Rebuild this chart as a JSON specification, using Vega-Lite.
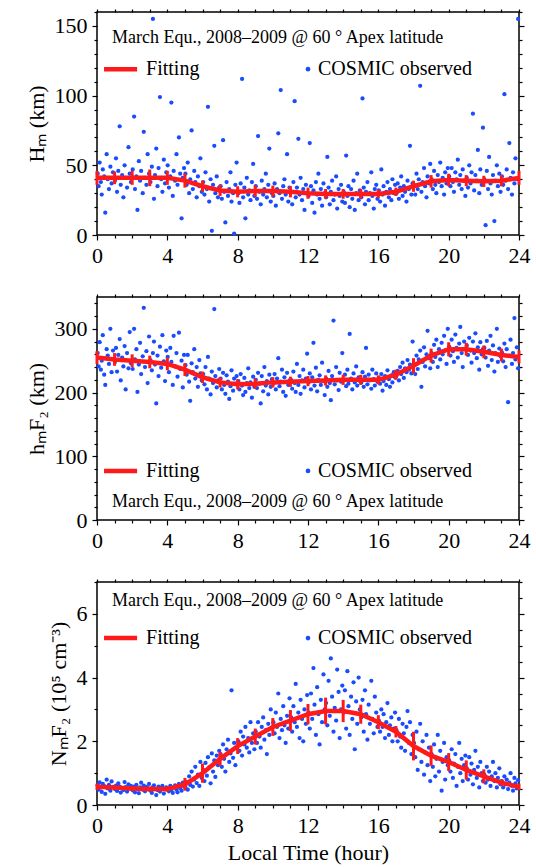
{
"$schema": "https://vega.github.io/schema/vega-lite/v6.json",
"padding": {"left": 24, "top": 0, "right": 5, "bottom": 5},
"background": "white",
"spacing": 62,
"bounds": "flush",
"datasets": {
"fit": [
{"t":0,"H":41,"He":5,"h":255,"he":10,"N":0.57,"Ne":0.1},
{"t":1,"H":41,"He":4.5,"h":252,"he":10,"N":0.55,"Ne":0.08},
{"t":2,"H":41,"He":5,"h":250,"he":10,"N":0.52,"Ne":0.08},
{"t":3,"H":41,"He":6,"h":248,"he":10,"N":0.5,"Ne":0.08},
{"t":4,"H":41,"He":5,"h":245,"he":10,"N":0.5,"Ne":0.08},
{"t":5,"H":39,"He":5,"h":236,"he":10,"N":0.65,"Ne":0.2},
{"t":6,"H":35,"He":4,"h":224,"he":9,"N":1.0,"Ne":0.3},
{"t":7,"H":32,"He":4,"h":216,"he":8,"N":1.45,"Ne":0.22},
{"t":8,"H":31,"He":4,"h":213,"he":8,"N":1.85,"Ne":0.25},
{"t":9,"H":31.5,"He":4,"h":214,"he":8,"N":2.15,"Ne":0.25},
{"t":10,"H":31.5,"He":4,"h":216,"he":8,"N":2.45,"Ne":0.28},
{"t":11,"H":31,"He":4,"h":217,"he":8,"N":2.65,"Ne":0.33},
{"t":12,"H":30,"He":4,"h":218,"he":8,"N":2.85,"Ne":0.32},
{"t":13,"H":29.5,"He":3.5,"h":219,"he":8,"N":2.95,"Ne":0.42},
{"t":14,"H":29.5,"He":3.5,"h":220,"he":8,"N":2.95,"Ne":0.35},
{"t":15,"H":29.5,"He":3.5,"h":220,"he":8,"N":2.85,"Ne":0.3},
{"t":16,"H":29.5,"He":3,"h":220,"he":7,"N":2.6,"Ne":0.22},
{"t":17,"H":31,"He":3,"h":228,"he":8,"N":2.3,"Ne":0.18},
{"t":18,"H":35,"He":4,"h":242,"he":12,"N":1.85,"Ne":0.45},
{"t":19,"H":38.5,"He":4.5,"h":258,"he":11,"N":1.55,"Ne":0.32},
{"t":20,"H":39.5,"He":4.5,"h":268,"he":11,"N":1.35,"Ne":0.28},
{"t":21,"H":39,"He":4,"h":268,"he":10,"N":1.1,"Ne":0.3},
{"t":22,"H":38.5,"He":4,"h":264,"he":10,"N":0.9,"Ne":0.22},
{"t":23,"H":39,"He":4,"h":259,"he":10,"N":0.7,"Ne":0.1},
{"t":24,"H":41,"He":5,"h":256,"he":10,"N":0.57,"Ne":0.1}
],
"obs": [
{"t":0.04,"H":44,"h":262,"N":0.62},{"t":0.09,"H":35,"h":241,"N":0.48},{"t":0.15,"H":52,"h":279,"N":0.71},{"t":0.22,"H":38,"h":236,"N":0.55},{"t":0.27,"H":29,"h":250,"N":0.41},{"t":0.33,"H":47,"h":290,"N":0.66},{"t":0.41,"H":42,"h":228,"N":0.59},{"t":0.47,"H":16,"h":212,"N":0.35},{"t":0.55,"H":58,"h":268,"N":0.8},{"t":0.61,"H":40,"h":258,"N":0.52},{"t":0.68,"H":33,"h":245,"N":0.63},{"t":0.76,"H":49,"h":300,"N":0.45},{"t":0.83,"H":37,"h":232,"N":0.74},{"t":0.91,"H":45,"h":266,"N":0.57},
{"t":1.02,"H":39,"h":248,"N":0.5},{"t":1.08,"H":55,"h":270,"N":0.61},{"t":1.14,"H":31,"h":233,"N":0.44},{"t":1.21,"H":46,"h":259,"N":0.68},{"t":1.29,"H":78,"h":284,"N":0.58},{"t":1.35,"H":36,"h":219,"N":0.39},{"t":1.43,"H":43,"h":255,"N":0.53},{"t":1.5,"H":27,"h":241,"N":0.47},{"t":1.57,"H":50,"h":273,"N":0.72},{"t":1.63,"H":41,"h":205,"N":0.56},{"t":1.71,"H":34,"h":262,"N":0.42},{"t":1.79,"H":63,"h":238,"N":0.65},{"t":1.86,"H":44,"h":295,"N":0.51},{"t":1.93,"H":38,"h":246,"N":0.6},
{"t":2.03,"H":47,"h":237,"N":0.46},{"t":2.11,"H":85,"h":300,"N":0.58},{"t":2.16,"H":33,"h":252,"N":0.4},{"t":2.24,"H":42,"h":268,"N":0.63},{"t":2.3,"H":18,"h":201,"N":0.5},{"t":2.38,"H":53,"h":244,"N":0.37},{"t":2.45,"H":39,"h":278,"N":0.55},{"t":2.51,"H":46,"h":229,"N":0.7},{"t":2.6,"H":30,"h":257,"N":0.48},{"t":2.66,"H":74,"h":333,"N":0.61},{"t":2.73,"H":41,"h":240,"N":0.43},{"t":2.81,"H":36,"h":265,"N":0.57},{"t":2.88,"H":58,"h":215,"N":0.52},{"t":2.96,"H":44,"h":288,"N":0.66},
{"t":3.04,"H":38,"h":251,"N":0.45},{"t":3.18,"H":155,"h":262,"N":0.56},{"t":3.12,"H":49,"h":235,"N":0.38},{"t":3.24,"H":26,"h":280,"N":0.62},{"t":3.3,"H":43,"h":244,"N":0.5},{"t":3.37,"H":62,"h":183,"N":0.31},{"t":3.44,"H":35,"h":258,"N":0.47},{"t":3.5,"H":48,"h":226,"N":0.58},{"t":3.58,"H":99,"h":272,"N":0.42},{"t":3.65,"H":40,"h":239,"N":0.53},{"t":3.72,"H":31,"h":290,"N":0.6},{"t":3.8,"H":54,"h":249,"N":0.36},{"t":3.87,"H":37,"h":218,"N":0.49},{"t":3.94,"H":45,"h":266,"N":0.55},
{"t":4.02,"H":50,"h":256,"N":0.52},{"t":4.09,"H":34,"h":232,"N":0.43},{"t":4.17,"H":42,"h":270,"N":0.6},{"t":4.23,"H":95,"h":248,"N":0.47},{"t":4.31,"H":28,"h":212,"N":0.38},{"t":4.36,"H":46,"h":289,"N":0.55},{"t":4.44,"H":39,"h":241,"N":0.62},{"t":4.52,"H":58,"h":262,"N":0.48},{"t":4.58,"H":36,"h":225,"N":0.4},{"t":4.66,"H":70,"h":294,"N":0.66},{"t":4.73,"H":44,"h":237,"N":0.53},{"t":4.81,"H":12,"h":250,"N":0.45},{"t":4.88,"H":41,"h":208,"N":0.7},{"t":4.95,"H":48,"h":259,"N":0.58},
{"t":5.03,"H":44,"h":243,"N":0.55},{"t":5.1,"H":36,"h":228,"N":0.72},{"t":5.16,"H":52,"h":259,"N":0.48},{"t":5.24,"H":30,"h":217,"N":0.9},{"t":5.3,"H":40,"h":187,"N":0.63},{"t":5.38,"H":75,"h":246,"N":1.05},{"t":5.45,"H":33,"h":232,"N":0.58},{"t":5.53,"H":46,"h":268,"N":0.8},{"t":5.59,"H":38,"h":222,"N":1.2},{"t":5.67,"H":27,"h":240,"N":0.69},{"t":5.74,"H":42,"h":209,"N":0.95},{"t":5.82,"H":35,"h":251,"N":0.6},{"t":5.88,"H":55,"h":230,"N":1.35},{"t":5.96,"H":31,"h":219,"N":0.85},
{"t":6.04,"H":38,"h":229,"N":1.1},{"t":6.11,"H":29,"h":213,"N":0.75},{"t":6.17,"H":45,"h":240,"N":1.32},{"t":6.25,"H":33,"h":205,"N":0.92},{"t":6.31,"H":92,"h":256,"N":1.5},{"t":6.38,"H":24,"h":222,"N":1.18},{"t":6.46,"H":40,"h":197,"N":0.68},{"t":6.53,"H":3,"h":233,"N":1.62},{"t":6.6,"H":36,"h":215,"N":1.05},{"t":6.67,"H":64,"h":331,"N":1.4},{"t":6.73,"H":30,"h":226,"N":0.88},{"t":6.81,"H":42,"h":208,"N":1.55},{"t":6.88,"H":27,"h":219,"N":1.25},{"t":6.95,"H":34,"h":237,"N":1.7},
{"t":7.03,"H":35,"h":222,"N":1.6},{"t":7.1,"H":26,"h":205,"N":1.2},{"t":7.17,"H":68,"h":231,"N":1.9},{"t":7.23,"H":31,"h":212,"N":1.45},{"t":7.3,"H":9,"h":198,"N":1.05},{"t":7.37,"H":38,"h":227,"N":1.75},{"t":7.45,"H":28,"h":217,"N":2.05},{"t":7.52,"H":33,"h":190,"N":1.35},{"t":7.59,"H":45,"h":210,"N":1.62},{"t":7.65,"H":24,"h":235,"N":3.6},{"t":7.74,"H":30,"h":203,"N":1.48},{"t":7.8,"H":1,"h":222,"N":1.95},{"t":7.87,"H":36,"h":214,"N":1.25},{"t":7.94,"H":52,"h":226,"N":1.8},
{"t":8.04,"H":30,"h":218,"N":2.0},{"t":8.1,"H":23,"h":205,"N":1.7},{"t":8.17,"H":37,"h":229,"N":2.3},{"t":8.25,"H":112,"h":211,"N":1.55},{"t":8.31,"H":27,"h":196,"N":2.15},{"t":8.38,"H":34,"h":223,"N":1.9},{"t":8.44,"H":12,"h":201,"N":2.45},{"t":8.52,"H":41,"h":215,"N":1.8},{"t":8.6,"H":29,"h":238,"N":2.1},{"t":8.66,"H":32,"h":207,"N":1.65},{"t":8.73,"H":25,"h":216,"N":2.6},{"t":8.81,"H":38,"h":192,"N":1.95},{"t":8.88,"H":51,"h":225,"N":2.25},{"t":8.95,"H":28,"h":209,"N":1.75},
{"t":9.03,"H":35,"h":220,"N":2.3},{"t":9.1,"H":26,"h":207,"N":1.95},{"t":9.16,"H":71,"h":231,"N":2.6},{"t":9.24,"H":31,"h":214,"N":2.15},{"t":9.31,"H":22,"h":183,"N":1.8},{"t":9.37,"H":39,"h":226,"N":2.45},{"t":9.45,"H":29,"h":202,"N":2.75},{"t":9.52,"H":33,"h":240,"N":2.05},{"t":9.6,"H":44,"h":211,"N":2.35},{"t":9.66,"H":27,"h":218,"N":1.6},{"t":9.74,"H":36,"h":197,"N":2.55},{"t":9.8,"H":62,"h":228,"N":2.2},{"t":9.88,"H":24,"h":209,"N":3.0},{"t":9.95,"H":30,"h":221,"N":2.4},
{"t":10.03,"H":28,"h":214,"N":2.6},{"t":10.1,"H":37,"h":229,"N":2.25},{"t":10.17,"H":21,"h":205,"N":2.9},{"t":10.24,"H":33,"h":222,"N":2.45},{"t":10.31,"H":73,"h":254,"N":3.5},{"t":10.38,"H":30,"h":210,"N":2.1},{"t":10.45,"H":104,"h":217,"N":2.7},{"t":10.52,"H":26,"h":236,"N":2.35},{"t":10.59,"H":35,"h":201,"N":3.1},{"t":10.66,"H":40,"h":224,"N":2.5},{"t":10.73,"H":29,"h":195,"N":1.95},{"t":10.81,"H":58,"h":231,"N":2.8},{"t":10.88,"H":24,"h":212,"N":2.4},{"t":10.95,"H":34,"h":219,"N":3.35},
{"t":11.04,"H":31,"h":220,"N":2.75},{"t":11.1,"H":22,"h":206,"N":2.3},{"t":11.17,"H":38,"h":233,"N":3.1},{"t":11.24,"H":96,"h":215,"N":2.6},{"t":11.3,"H":27,"h":201,"N":3.8},{"t":11.37,"H":34,"h":245,"N":2.45},{"t":11.45,"H":69,"h":212,"N":2.9},{"t":11.52,"H":29,"h":226,"N":2.1},{"t":11.58,"H":41,"h":198,"N":3.3},{"t":11.66,"H":25,"h":219,"N":2.7},{"t":11.73,"H":33,"h":236,"N":2.0},{"t":11.8,"H":18,"h":208,"N":3.0},{"t":11.88,"H":36,"h":222,"N":2.55},{"t":11.95,"H":30,"h":261,"N":3.45},
{"t":12.03,"H":28,"h":216,"N":2.9},{"t":12.1,"H":66,"h":230,"N":2.4},{"t":12.17,"H":35,"h":205,"N":3.5},{"t":12.24,"H":23,"h":224,"N":2.7},{"t":12.31,"H":32,"h":278,"N":4.3},{"t":12.37,"H":16,"h":211,"N":3.15},{"t":12.45,"H":38,"h":239,"N":2.2},{"t":12.52,"H":29,"h":202,"N":3.7},{"t":12.59,"H":44,"h":220,"N":2.85},{"t":12.66,"H":26,"h":227,"N":1.9},{"t":12.73,"H":33,"h":212,"N":3.3},{"t":12.8,"H":21,"h":247,"N":2.6},{"t":12.88,"H":37,"h":218,"N":4.1},{"t":12.95,"H":30,"h":196,"N":3.0},
{"t":13.03,"H":27,"h":222,"N":3.2},{"t":13.1,"H":56,"h":209,"N":2.5},{"t":13.17,"H":34,"h":234,"N":3.9},{"t":13.24,"H":22,"h":215,"N":2.8},{"t":13.3,"H":31,"h":188,"N":4.6},{"t":13.37,"H":39,"h":226,"N":3.4},{"t":13.45,"H":25,"h":313,"N":2.3},{"t":13.52,"H":29,"h":213,"N":3.05},{"t":13.6,"H":42,"h":240,"N":2.65},{"t":13.66,"H":19,"h":219,"N":4.25},{"t":13.74,"H":33,"h":204,"N":3.55},{"t":13.8,"H":28,"h":231,"N":2.1},{"t":13.88,"H":36,"h":217,"N":3.0},{"t":13.95,"H":24,"h":262,"N":3.75},
{"t":14.03,"H":31,"h":219,"N":2.9},{"t":14.1,"H":23,"h":228,"N":3.6},{"t":14.17,"H":57,"h":210,"N":2.4},{"t":14.24,"H":28,"h":236,"N":4.2},{"t":14.3,"H":35,"h":214,"N":3.1},{"t":14.37,"H":20,"h":292,"N":2.2},{"t":14.45,"H":33,"h":222,"N":3.4},{"t":14.52,"H":26,"h":205,"N":2.7},{"t":14.59,"H":39,"h":230,"N":3.85},{"t":14.66,"H":18,"h":216,"N":1.75},{"t":14.74,"H":30,"h":241,"N":3.25},{"t":14.8,"H":44,"h":211,"N":2.55},{"t":14.88,"H":25,"h":224,"N":4.0},{"t":14.95,"H":32,"h":218,"N":3.0},
{"t":15.03,"H":27,"h":216,"N":2.75},{"t":15.1,"H":98,"h":232,"N":3.3},{"t":15.17,"H":34,"h":209,"N":2.3},{"t":15.24,"H":22,"h":225,"N":3.6},{"t":15.3,"H":31,"h":270,"N":2.85},{"t":15.38,"H":38,"h":213,"N":2.05},{"t":15.45,"H":25,"h":228,"N":3.15},{"t":15.52,"H":30,"h":219,"N":2.55},{"t":15.6,"H":45,"h":206,"N":3.9},{"t":15.66,"H":28,"h":236,"N":2.7},{"t":15.74,"H":19,"h":221,"N":2.25},{"t":15.8,"H":33,"h":211,"N":3.4},{"t":15.88,"H":36,"h":230,"N":2.9},{"t":15.95,"H":26,"h":217,"N":2.45},
{"t":16.03,"H":32,"h":223,"N":2.65},{"t":16.1,"H":24,"h":214,"N":2.3},{"t":16.17,"H":47,"h":229,"N":3.0},{"t":16.24,"H":29,"h":203,"N":2.45},{"t":16.3,"H":35,"h":218,"N":2.85},{"t":16.38,"H":21,"h":226,"N":2.1},{"t":16.45,"H":31,"h":212,"N":2.6},{"t":16.52,"H":38,"h":235,"N":3.2},{"t":16.6,"H":27,"h":221,"N":2.2},{"t":16.66,"H":33,"h":209,"N":2.5},{"t":16.74,"H":25,"h":227,"N":2.75},{"t":16.8,"H":40,"h":216,"N":2.0},{"t":16.88,"H":30,"h":232,"N":2.4},{"t":16.95,"H":36,"h":224,"N":2.9},
{"t":17.03,"H":30,"h":226,"N":2.35},{"t":17.1,"H":37,"h":234,"N":2.0},{"t":17.17,"H":26,"h":219,"N":2.7},{"t":17.24,"H":34,"h":240,"N":2.15},{"t":17.3,"H":42,"h":229,"N":1.8},{"t":17.38,"H":28,"h":247,"N":2.55},{"t":17.45,"H":35,"h":223,"N":2.25},{"t":17.52,"H":31,"h":238,"N":1.7},{"t":17.6,"H":24,"h":232,"N":2.45},{"t":17.66,"H":39,"h":251,"N":2.95},{"t":17.74,"H":33,"h":236,"N":1.95},{"t":17.8,"H":64,"h":244,"N":2.6},{"t":17.88,"H":29,"h":230,"N":1.6},{"t":17.95,"H":37,"h":280,"N":2.2},
{"t":18.03,"H":36,"h":244,"N":1.95},{"t":18.1,"H":29,"h":229,"N":1.5},{"t":18.17,"H":44,"h":258,"N":2.3},{"t":18.24,"H":33,"h":237,"N":1.1},{"t":18.3,"H":40,"h":252,"N":1.75},{"t":18.38,"H":107,"h":266,"N":2.55},{"t":18.45,"H":31,"h":209,"N":1.35},{"t":18.52,"H":38,"h":248,"N":2.0},{"t":18.6,"H":48,"h":271,"N":0.95},{"t":18.66,"H":35,"h":241,"N":1.65},{"t":18.74,"H":27,"h":260,"N":2.2},{"t":18.8,"H":42,"h":297,"N":1.25},{"t":18.88,"H":37,"h":254,"N":1.8},{"t":18.95,"H":51,"h":238,"N":0.75},
{"t":19.03,"H":40,"h":262,"N":1.6},{"t":19.1,"H":33,"h":248,"N":1.2},{"t":19.17,"H":46,"h":275,"N":1.9},{"t":19.24,"H":36,"h":256,"N":0.9},{"t":19.3,"H":30,"h":283,"N":1.45},{"t":19.38,"H":43,"h":240,"N":2.2},{"t":19.45,"H":38,"h":268,"N":1.05},{"t":19.52,"H":52,"h":252,"N":1.7},{"t":19.6,"H":35,"h":278,"N":0.45},{"t":19.66,"H":41,"h":260,"N":1.35},{"t":19.74,"H":29,"h":289,"N":1.95},{"t":19.8,"H":45,"h":266,"N":0.8},{"t":19.88,"H":37,"h":245,"N":1.5},{"t":19.95,"H":48,"h":300,"N":1.25},
{"t":20.03,"H":42,"h":272,"N":1.4},{"t":20.1,"H":35,"h":258,"N":1.05},{"t":20.17,"H":48,"h":283,"N":1.75},{"t":20.24,"H":38,"h":265,"N":0.85},{"t":20.3,"H":31,"h":248,"N":1.3},{"t":20.38,"H":45,"h":291,"N":1.6},{"t":20.45,"H":40,"h":270,"N":0.6},{"t":20.52,"H":54,"h":255,"N":1.2},{"t":20.6,"H":36,"h":277,"N":1.95},{"t":20.66,"H":43,"h":303,"N":1.0},{"t":20.74,"H":33,"h":262,"N":1.45},{"t":20.8,"H":47,"h":240,"N":0.75},{"t":20.88,"H":39,"h":280,"N":1.25},{"t":20.95,"H":28,"h":269,"N":1.55},
{"t":21.03,"H":41,"h":274,"N":1.15},{"t":21.1,"H":34,"h":259,"N":0.8},{"t":21.17,"H":50,"h":286,"N":1.5},{"t":21.24,"H":37,"h":266,"N":0.95},{"t":21.3,"H":45,"h":247,"N":1.3},{"t":21.38,"H":87,"h":280,"N":0.65},{"t":21.45,"H":32,"h":262,"N":1.1},{"t":21.52,"H":43,"h":293,"N":1.7},{"t":21.6,"H":39,"h":254,"N":0.85},{"t":21.66,"H":61,"h":271,"N":1.2},{"t":21.74,"H":30,"h":236,"N":0.55},{"t":21.8,"H":47,"h":279,"N":1.35},{"t":21.88,"H":36,"h":260,"N":1.0},{"t":21.95,"H":77,"h":268,"N":0.75},
{"t":22.03,"H":40,"h":270,"N":0.95},{"t":22.1,"H":7,"h":255,"N":0.7},{"t":22.17,"H":46,"h":281,"N":1.2},{"t":22.24,"H":33,"h":242,"N":0.8},{"t":22.3,"H":56,"h":266,"N":1.05},{"t":22.38,"H":37,"h":289,"N":0.6},{"t":22.45,"H":29,"h":251,"N":0.9},{"t":22.52,"H":43,"h":274,"N":1.35},{"t":22.6,"H":10,"h":233,"N":0.75},{"t":22.66,"H":39,"h":262,"N":1.0},{"t":22.74,"H":50,"h":300,"N":0.55},{"t":22.8,"H":35,"h":248,"N":0.85},{"t":22.88,"H":44,"h":269,"N":1.15},{"t":22.95,"H":31,"h":257,"N":0.65},
{"t":23.03,"H":42,"h":263,"N":0.75},{"t":23.1,"H":36,"h":249,"N":0.55},{"t":23.17,"H":101,"h":277,"N":0.9},{"t":23.24,"H":39,"h":240,"N":0.65},{"t":23.3,"H":47,"h":268,"N":0.8},{"t":23.38,"H":33,"h":185,"N":0.5},{"t":23.45,"H":66,"h":258,"N":0.7},{"t":23.52,"H":41,"h":283,"N":1.0},{"t":23.6,"H":29,"h":245,"N":0.6},{"t":23.66,"H":45,"h":262,"N":0.45},{"t":23.74,"H":37,"h":317,"N":0.85},{"t":23.8,"H":55,"h":252,"N":0.68},{"t":23.88,"H":40,"h":271,"N":0.52},{"t":23.95,"H":155,"h":238,"N":0.78}
]
},
"vconcat": [
{
"width": 422, "height": 223,
"resolve": {"axis": {"x": "independent", "y": "independent"}},
"layer": [
{"data": {"name": "obs"}, "mark": {"type": "circle", "size": 18, "color": "#1a4cff", "opacity": 1},
 "encoding": {
  "x": {"field": "t", "type": "quantitative", "scale": {"domain": [0, 24]}, "axis": {"orient": "bottom", "title": null, "values": [0,1,2,3,4,5,6,7,8,9,10,11,12,13,14,15,16,17,18,19,20,21,22,23,24], "labelExpr": "datum.value % 4 === 0 ? datum.label : ''", "tickSize": {"condition": {"test": "datum.value % 4 === 0", "value": 5}, "value": 3}}},
  "y": {"field": "H", "type": "quantitative", "scale": {"domain": [0, 160]}, "axis": {"orient": "left", "title": "Hₘ (km)", "values": [0,10,20,30,40,50,60,70,80,90,100,110,120,130,140,150,160], "labelExpr": "datum.value % 50 === 0 ? datum.label : ''", "tickSize": {"condition": {"test": "datum.value % 50 === 0", "value": 5}, "value": 3}}}
 }},
{"data": {"name": "fit"}, "mark": {"type": "line", "color": "#ff1a1a", "strokeWidth": 4.5},
 "encoding": {
  "x": {"field": "t", "type": "quantitative", "scale": {"domain": [0, 24]}, "axis": {"orient": "top", "title": null, "labels": false, "values": [0,1,2,3,4,5,6,7,8,9,10,11,12,13,14,15,16,17,18,19,20,21,22,23,24], "tickSize": 3}},
  "y": {"field": "H", "type": "quantitative", "scale": {"domain": [0, 160]}, "axis": {"orient": "right", "title": null, "labels": false, "values": [0,10,20,30,40,50,60,70,80,90,100,110,120,130,140,150,160], "tickSize": {"condition": {"test": "datum.value % 50 === 0", "value": 5}, "value": 3}}}
 }},
{"data": {"name": "fit"}, "mark": {"type": "errorbar", "color": "#ff1a1a", "thickness": 3},
 "encoding": {
  "x": {"field": "t", "type": "quantitative", "scale": {"domain": [0, 24]}, "axis": null},
  "y": {"field": "H", "type": "quantitative", "scale": {"domain": [0, 160]}, "axis": null},
  "yError": {"field": "He"}
 }},
{"data": {"values": [{"x": 0.85, "y": 141, "s": "March Equ., 2008–2009 @ 60 ° Apex latitude"}]}, "mark": {"type": "text", "align": "left", "baseline": "middle", "fontSize": 18, "color": "black"},
 "encoding": {"x": {"field": "x", "type": "quantitative", "scale": {"domain": [0, 24]}, "axis": null}, "y": {"field": "y", "type": "quantitative", "scale": {"domain": [0, 160]}, "axis": null}, "text": {"field": "s"}}},
{"data": {"values": [{"x": 0.4, "x2": 2.28, "y": 119}]}, "mark": {"type": "rule", "color": "#ff1a1a", "strokeWidth": 4.5},
 "encoding": {"x": {"field": "x", "type": "quantitative", "scale": {"domain": [0, 24]}, "axis": null}, "x2": {"field": "x2"}, "y": {"field": "y", "type": "quantitative", "scale": {"domain": [0, 160]}, "axis": null}}},
{"data": {"values": [{"x": 12.0, "y": 119}]}, "mark": {"type": "circle", "size": 22, "color": "#1a4cff", "opacity": 1},
 "encoding": {"x": {"field": "x", "type": "quantitative", "scale": {"domain": [0, 24]}, "axis": null}, "y": {"field": "y", "type": "quantitative", "scale": {"domain": [0, 160]}, "axis": null}}},
{"data": {"values": [{"x": 2.79, "y": 119, "s": "Fitting"}, {"x": 12.57, "y": 119, "s": "COSMIC observed"}]}, "mark": {"type": "text", "align": "left", "baseline": "middle", "fontSize": 20, "color": "black"},
 "encoding": {"x": {"field": "x", "type": "quantitative", "scale": {"domain": [0, 24]}, "axis": null}, "y": {"field": "y", "type": "quantitative", "scale": {"domain": [0, 160]}, "axis": null}, "text": {"field": "s"}}}
]
},
{
"width": 422, "height": 223,
"resolve": {"axis": {"x": "independent", "y": "independent"}},
"layer": [
{"data": {"name": "obs"}, "mark": {"type": "circle", "size": 18, "color": "#1a4cff", "opacity": 1},
 "encoding": {
  "x": {"field": "t", "type": "quantitative", "scale": {"domain": [0, 24]}, "axis": {"orient": "bottom", "title": null, "values": [0,1,2,3,4,5,6,7,8,9,10,11,12,13,14,15,16,17,18,19,20,21,22,23,24], "labelExpr": "datum.value % 4 === 0 ? datum.label : ''", "tickSize": {"condition": {"test": "datum.value % 4 === 0", "value": 5}, "value": 3}}},
  "y": {"field": "h", "type": "quantitative", "scale": {"domain": [0, 350]}, "axis": {"orient": "left", "title": "hₘF₂ (km)", "values": [0,20,40,60,80,100,120,140,160,180,200,220,240,260,280,300,320,340], "labelExpr": "datum.value % 100 === 0 ? datum.label : ''", "tickSize": {"condition": {"test": "datum.value % 100 === 0", "value": 5}, "value": 3}}}
 }},
{"data": {"name": "fit"}, "mark": {"type": "line", "color": "#ff1a1a", "strokeWidth": 4.5},
 "encoding": {
  "x": {"field": "t", "type": "quantitative", "scale": {"domain": [0, 24]}, "axis": {"orient": "top", "title": null, "labels": false, "values": [0,1,2,3,4,5,6,7,8,9,10,11,12,13,14,15,16,17,18,19,20,21,22,23,24], "tickSize": 3}},
  "y": {"field": "h", "type": "quantitative", "scale": {"domain": [0, 350]}, "axis": {"orient": "right", "title": null, "labels": false, "values": [0,20,40,60,80,100,120,140,160,180,200,220,240,260,280,300,320,340], "tickSize": {"condition": {"test": "datum.value % 100 === 0", "value": 5}, "value": 3}}}
 }},
{"data": {"name": "fit"}, "mark": {"type": "errorbar", "color": "#ff1a1a", "thickness": 3},
 "encoding": {
  "x": {"field": "t", "type": "quantitative", "scale": {"domain": [0, 24]}, "axis": null},
  "y": {"field": "h", "type": "quantitative", "scale": {"domain": [0, 350]}, "axis": null},
  "yError": {"field": "he"}
 }},
{"data": {"values": [{"x": 0.85, "y": 28, "s": "March Equ., 2008–2009 @ 60 ° Apex latitude"}]}, "mark": {"type": "text", "align": "left", "baseline": "middle", "fontSize": 18, "color": "black"},
 "encoding": {"x": {"field": "x", "type": "quantitative", "scale": {"domain": [0, 24]}, "axis": null}, "y": {"field": "y", "type": "quantitative", "scale": {"domain": [0, 350]}, "axis": null}, "text": {"field": "s"}}},
{"data": {"values": [{"x": 0.4, "x2": 2.28, "y": 77}]}, "mark": {"type": "rule", "color": "#ff1a1a", "strokeWidth": 4.5},
 "encoding": {"x": {"field": "x", "type": "quantitative", "scale": {"domain": [0, 24]}, "axis": null}, "x2": {"field": "x2"}, "y": {"field": "y", "type": "quantitative", "scale": {"domain": [0, 350]}, "axis": null}}},
{"data": {"values": [{"x": 12.0, "y": 77}]}, "mark": {"type": "circle", "size": 22, "color": "#1a4cff", "opacity": 1},
 "encoding": {"x": {"field": "x", "type": "quantitative", "scale": {"domain": [0, 24]}, "axis": null}, "y": {"field": "y", "type": "quantitative", "scale": {"domain": [0, 350]}, "axis": null}}},
{"data": {"values": [{"x": 2.79, "y": 77, "s": "Fitting"}, {"x": 12.57, "y": 77, "s": "COSMIC observed"}]}, "mark": {"type": "text", "align": "left", "baseline": "middle", "fontSize": 20, "color": "black"},
 "encoding": {"x": {"field": "x", "type": "quantitative", "scale": {"domain": [0, 24]}, "axis": null}, "y": {"field": "y", "type": "quantitative", "scale": {"domain": [0, 350]}, "axis": null}, "text": {"field": "s"}}}
]
},
{
"width": 422, "height": 223,
"resolve": {"axis": {"x": "independent", "y": "independent"}},
"layer": [
{"data": {"name": "obs"}, "mark": {"type": "circle", "size": 18, "color": "#1a4cff", "opacity": 1},
 "encoding": {
  "x": {"field": "t", "type": "quantitative", "scale": {"domain": [0, 24]}, "axis": {"orient": "bottom", "title": "Local Time (hour)", "values": [0,1,2,3,4,5,6,7,8,9,10,11,12,13,14,15,16,17,18,19,20,21,22,23,24], "labelExpr": "datum.value % 4 === 0 ? datum.label : ''", "tickSize": {"condition": {"test": "datum.value % 4 === 0", "value": 5}, "value": 3}}},
  "y": {"field": "N", "type": "quantitative", "scale": {"domain": [0, 7]}, "axis": {"orient": "left", "title": "NₘF₂ (10⁵ cm⁻³)", "format": "d", "values": [0,0.5,1,1.5,2,2.5,3,3.5,4,4.5,5,5.5,6,6.5,7], "labelExpr": "datum.value % 2 === 0 ? datum.label : ''", "tickSize": {"condition": {"test": "datum.value % 2 === 0", "value": 5}, "value": 3}}}
 }},
{"data": {"name": "fit"}, "mark": {"type": "line", "color": "#ff1a1a", "strokeWidth": 4.5},
 "encoding": {
  "x": {"field": "t", "type": "quantitative", "scale": {"domain": [0, 24]}, "axis": {"orient": "top", "title": null, "labels": false, "values": [0,1,2,3,4,5,6,7,8,9,10,11,12,13,14,15,16,17,18,19,20,21,22,23,24], "tickSize": 3}},
  "y": {"field": "N", "type": "quantitative", "scale": {"domain": [0, 7]}, "axis": {"orient": "right", "title": null, "labels": false, "values": [0,0.5,1,1.5,2,2.5,3,3.5,4,4.5,5,5.5,6,6.5,7], "tickSize": {"condition": {"test": "datum.value % 2 === 0", "value": 5}, "value": 3}}}
 }},
{"data": {"name": "fit"}, "mark": {"type": "errorbar", "color": "#ff1a1a", "thickness": 3},
 "encoding": {
  "x": {"field": "t", "type": "quantitative", "scale": {"domain": [0, 24]}, "axis": null},
  "y": {"field": "N", "type": "quantitative", "scale": {"domain": [0, 7]}, "axis": null},
  "yError": {"field": "Ne"}
 }},
{"data": {"values": [{"x": 0.85, "y": 6.39, "s": "March Equ., 2008–2009 @ 60 ° Apex latitude"}]}, "mark": {"type": "text", "align": "left", "baseline": "middle", "fontSize": 18, "color": "black"},
 "encoding": {"x": {"field": "x", "type": "quantitative", "scale": {"domain": [0, 24]}, "axis": null}, "y": {"field": "y", "type": "quantitative", "scale": {"domain": [0, 7]}, "axis": null}, "text": {"field": "s"}}},
{"data": {"values": [{"x": 0.4, "x2": 2.28, "y": 5.24}]}, "mark": {"type": "rule", "color": "#ff1a1a", "strokeWidth": 4.5},
 "encoding": {"x": {"field": "x", "type": "quantitative", "scale": {"domain": [0, 24]}, "axis": null}, "x2": {"field": "x2"}, "y": {"field": "y", "type": "quantitative", "scale": {"domain": [0, 7]}, "axis": null}}},
{"data": {"values": [{"x": 12.0, "y": 5.24}]}, "mark": {"type": "circle", "size": 22, "color": "#1a4cff", "opacity": 1},
 "encoding": {"x": {"field": "x", "type": "quantitative", "scale": {"domain": [0, 24]}, "axis": null}, "y": {"field": "y", "type": "quantitative", "scale": {"domain": [0, 7]}, "axis": null}}},
{"data": {"values": [{"x": 2.79, "y": 5.24, "s": "Fitting"}, {"x": 12.57, "y": 5.24, "s": "COSMIC observed"}]}, "mark": {"type": "text", "align": "left", "baseline": "middle", "fontSize": 20, "color": "black"},
 "encoding": {"x": {"field": "x", "type": "quantitative", "scale": {"domain": [0, 24]}, "axis": null}, "y": {"field": "y", "type": "quantitative", "scale": {"domain": [0, 7]}, "axis": null}, "text": {"field": "s"}}}
]
}
],
"config": {
 "font": "Liberation Serif, Times New Roman, serif",
 "text": {"font": "Liberation Serif, Times New Roman, serif"},
 "style": {"guide-label": {"font": "Liberation Serif, Times New Roman, serif"}, "guide-title": {"font": "Liberation Serif, Times New Roman, serif"}},
 "view": {"stroke": "black", "strokeWidth": 1.5},
 "axis": {"domain": false, "grid": false, "labelFont": "Liberation Serif, Times New Roman, serif", "labelFontSize": 22, "labelColor": "black", "titleFont": "Liberation Serif, Times New Roman, serif", "titleFontSize": 22, "titleFontWeight": "normal", "titleColor": "black", "tickColor": "black", "tickWidth": 1.2, "labelPadding": 5, "titlePadding": 6, "labelFlush": false, "labelOverlap": false}
}
}
